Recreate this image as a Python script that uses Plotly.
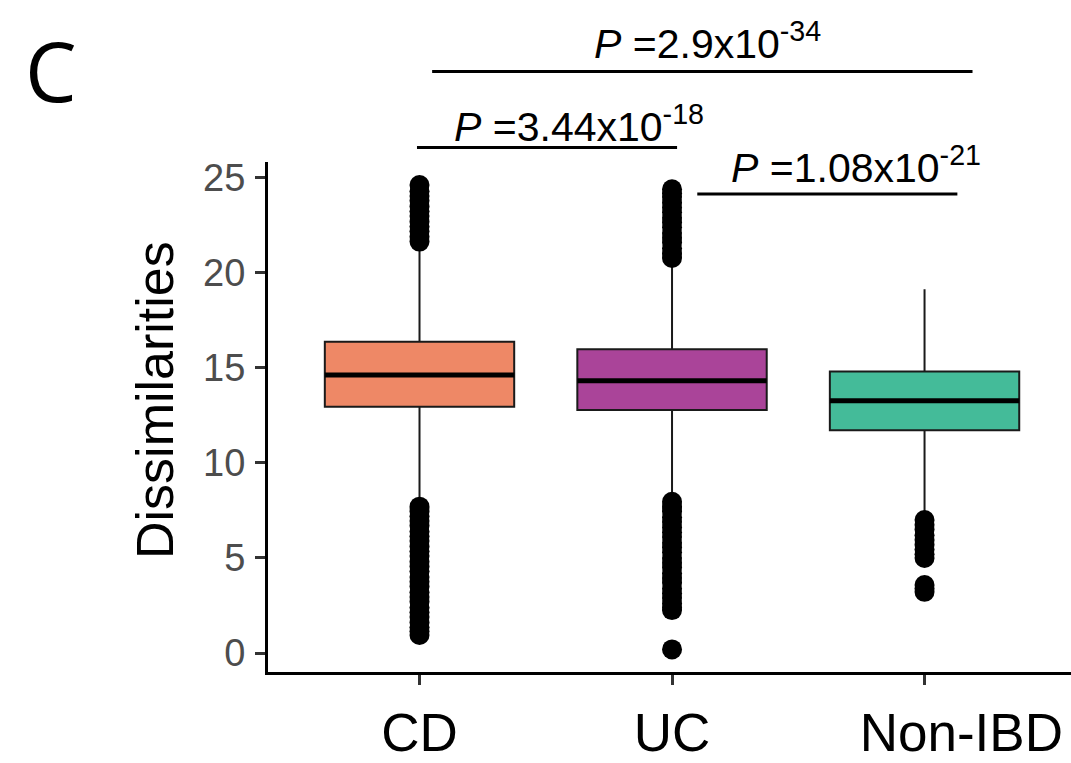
import plotly.graph_objects as go

# ---------------- data ----------------
categories = ["CD", "UC", "Non-IBD"]
q1 = [12.96, 12.79, 11.72]
median = [14.63, 14.33, 13.28]
q3 = [16.38, 15.98, 14.81]
lower_fence = [7.85, 8.10, 7.15]
upper_fence = [21.50, 20.60, 19.14]

outliers_cd = [21.65, 21.9, 22.2, 22.45, 22.7, 23.0, 23.25, 23.5, 23.8, 24.05, 24.3, 24.63,
               7.70, 7.45, 7.2, 6.95, 6.7, 6.4, 6.15, 5.9, 5.6, 5.35, 5.1, 4.8, 4.55, 4.3,
               4.0, 3.75, 3.5, 3.2, 2.95, 2.7, 2.4, 2.15, 1.9, 1.6, 1.35, 1.15, 0.95]
outliers_uc = [20.79, 21.05, 21.3, 21.6, 21.85, 22.1, 22.4, 22.65, 22.9, 23.2, 23.45, 23.7,
               24.0, 24.2, 24.4,
               7.96, 7.7, 7.45, 7.15, 6.9, 6.6, 6.35, 6.1, 5.8, 5.55, 5.3, 5.0, 4.75, 4.5,
               4.2, 3.95, 3.7, 3.4, 3.15, 2.9, 2.6, 2.4, 2.26, 0.19]
outliers_nonibd = [7.0, 6.75, 6.5, 6.2, 5.95, 5.7, 5.45, 5.2, 5.0, 3.58, 3.4, 3.22]
outliers = [outliers_cd, outliers_uc, outliers_nonibd]

# significance brackets (group positions, y position) and labels
sig_xmin = [0.99, 2.10, 1.05]
sig_xmax = [2.02, 3.13, 3.19]
sig_y = [26.6, 24.15, 30.6]
sig_label_x = [1.63, 2.73, 2.14]
sig_label_y = [27.85, 25.68, 32.2]
sig_mantissa = ["3.44", "1.08", "2.9"]
sig_exponent = ["-18", "-21", "-34"]

y_ticks = [0, 5, 10, 15, 20, 25]
fills = ["#EE8866", "#AA4499", "#44BB99"]

# ---------------- styling constants ----------------
W, H = 1071, 763
ML, MR, MT, MB = 268, 0, 162, 91
XR = [0.4, 3.58]
YR = [-1.0, 25.84]
BOXW = 0.75
FONT = "Liberation Sans, Arial, sans-serif"
# the reference's last x label sits to the right of its tick
label_pad = ["", "", "\u00a0" * 5]


def px_x(v):
    return (v - XR[0]) / (XR[1] - XR[0])


def px_y(v):
    return (v - YR[0]) / (YR[1] - YR[0])


fig = go.Figure()
xpos = list(range(1, len(categories) + 1))

for i, c in enumerate(categories):
    fig.add_trace(go.Box(
        x=[xpos[i]], q1=[q1[i]], median=[median[i]], q3=[q3[i]],
        lowerfence=[lower_fence[i]], upperfence=[upper_fence[i]],
        width=BOXW, whiskerwidth=0, boxpoints=False,
        fillcolor=fills[i], line=dict(color="#1A1A1A", width=2),
        name=c, showlegend=False, hoverinfo="skip",
    ))

for i, c in enumerate(categories):
    fig.add_trace(go.Scatter(
        x=[xpos[i] - BOXW / 2, xpos[i] + BOXW / 2], y=[median[i], median[i]],
        mode="lines", line=dict(color="black", width=5),
        showlegend=False, hoverinfo="skip",
    ))

for i, c in enumerate(categories):
    fig.add_trace(go.Scatter(
        x=[xpos[i]] * len(outliers[i]), y=outliers[i],
        mode="markers", marker=dict(color="black", size=20, line=dict(width=0)),
        showlegend=False, hoverinfo="skip", cliponaxis=False,
    ))

shapes = []
annotations = []
for i in range(len(sig_y)):
    shapes.append(dict(type="line", xref="paper", yref="paper",
                       x0=px_x(sig_xmin[i]), x1=px_x(sig_xmax[i]),
                       y0=px_y(sig_y[i]), y1=px_y(sig_y[i]),
                       line=dict(color="black", width=3)))
    annotations.append(dict(
        x=sig_label_x[i], xref="x", y=px_y(sig_label_y[i]), yref="paper",
        text="<i>P</i> =%sx10<sup>%s</sup>" % (sig_mantissa[i], sig_exponent[i]),
        showarrow=False, xanchor="center", yanchor="middle",
        font=dict(family=FONT, size=41, color="black"),
    ))

# y-axis title
annotations.append(dict(
    x=155, y=400, xref="paper", yref="paper", text="Dissimilarities",
    textangle=-90, showarrow=False, xanchor="center", yanchor="middle",
    font=dict(family=FONT, size=52, color="black"),
))
# panel letter
annotations.append(dict(
    x=51, y=70, text="C", showarrow=False, xanchor="center", yanchor="middle",
    font=dict(family="Open Sans, Noto Sans, sans-serif", size=82, color="black"),
))

# convert pixel-placed annotations (last two) to paper coordinates
pw = W - ML - MR
ph = H - MT - MB
for a in annotations[-2:]:
    a["xref"] = "paper"
    a["yref"] = "paper"
    a["x"] = (a["x"] - ML) / pw
    a["y"] = (H - MB - a["y"]) / ph

fig.update_layout(
    width=W, height=H,
    margin=dict(l=ML, r=MR, t=MT, b=MB, pad=0),
    paper_bgcolor="white", plot_bgcolor="white",
    shapes=shapes, annotations=annotations,
    font=dict(family=FONT),
    xaxis=dict(
        range=XR, tickvals=xpos,
        ticktext=[label_pad[i] + c for i, c in enumerate(categories)],
        showline=True, linecolor="black", linewidth=3, mirror=False,
        ticks="outside", ticklen=10, tickwidth=3, tickcolor="#333333",
        showgrid=False, zeroline=False, automargin=False,
        tickfont=dict(family=FONT, size=53, color="black"),
        ticklabelstandoff=2,
    ),
    yaxis=dict(
        range=YR, tickvals=y_ticks, ticktext=[str(v) for v in y_ticks],
        showline=True, linecolor="black", linewidth=3,
        ticks="outside", ticklen=10, tickwidth=3, tickcolor="#333333",
        showgrid=False, zeroline=False, automargin=False,
        tickfont=dict(family=FONT, size=38, color="#4D4D4D"),
        ticklabelstandoff=2,
    ),
)

fig.write_html("out.html")
